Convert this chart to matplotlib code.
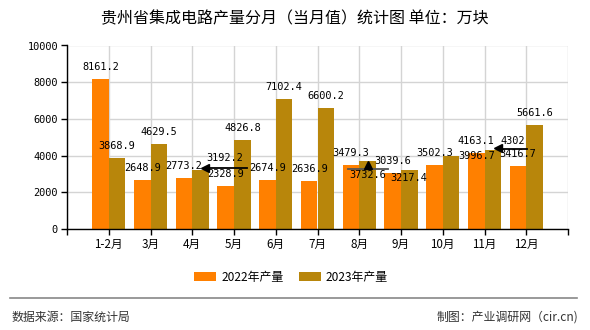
import matplotlib
matplotlib.use('Agg')
import matplotlib.pyplot as plt
from matplotlib.lines import Line2D
from matplotlib.patches import Patch
from matplotlib.transforms import IdentityTransform
import numpy as np

plt.rcParams['font.family'] = ['Noto Sans CJK SC', 'DejaVu Sans']

title = '贵州省集成电路产量分月（当月值）统计图 单位：万块'
categories = ['1-2月', '3月', '4月', '5月', '6月', '7月', '8月', '9月', '10月', '11月', '12月']
values_2022 = [8161.2, 2648.9, 2773.2, 2328.9, 2674.9, 2636.9, 3479.3, 3039.6, 3502.3, 4163.1, 3416.7]
values_2023 = [3868.9, 4629.5, 3192.2, 4826.8, 7102.4, 6600.2, 3732.6, 3217.4, 3996.7, 4302, 5661.6]
series_names = ['2022年产量', '2023年产量']
y_ticks = [0, 2000, 4000, 6000, 8000, 10000]
source_text = '数据来源：国家统计局'
credit_text = '制图：产业调研网（cir.cn)'

colors = ['#FF8000', '#B8860B']
W, H = 590, 330

fig = plt.figure(figsize=(W / 100, H / 100), dpi=100)
ax = fig.add_axes([67 / W, 101 / H, 501 / W, 183.5 / H])

x = np.arange(len(categories))
bw = 0.4
ax.bar(x - bw / 2, values_2022, bw, color=colors[0], zorder=2)
ax.bar(x + bw / 2, values_2023, bw, color=colors[1], zorder=2)

ax.set_xlim(-1, len(categories))
ax.set_ylim(y_ticks[0], y_ticks[-1])
ax.set_yticks(y_ticks)
ax.set_yticklabels([str(t) for t in y_ticks], family='DejaVu Sans Mono', fontsize=7.4)
ax.set_xticks(np.arange(-1, len(categories) + 1))
ax.set_xticklabels([''] + categories + [''], fontsize=8.4)
ax.tick_params(axis='both', length=4.5, width=1, color='black', pad=2)
ax.set_axisbelow(True)
ax.grid(True, color='#d4d4d4', lw=1)
for s in ['top', 'right']:
    ax.spines[s].set_visible(False)
for s in ['left', 'bottom']:
    ax.spines[s].set_color('black')
    ax.spines[s].set_linewidth(1)

# label offsets in pixels (dx, dy) for displaced labels
label_offsets = {
    (1, 2): (24, 12),
    (1, 6): (0, -14),
    (1, 7): (-1, -8),
    (1, 8): (26, 0),
    (1, 9): (20, 9),
}
lbl_kw = dict(textcoords='offset pixels', ha='center', va='center',
              family='DejaVu Sans Mono', fontsize=7.4, color='black', zorder=5)

for si, vals in enumerate([values_2022, values_2023]):
    off = -bw / 2 if si == 0 else bw / 2
    for i, v in enumerate(vals):
        dx, dy = label_offsets.get((si, i), (0, 12))
        txt = f'{v:g}' if float(v).is_integer() else f'{v:.1f}'
        ax.annotate(txt, xy=(i + off, v), xytext=(dx, dy), **lbl_kw)

# leader lines (computed from the bar tops in pixel space)
def leader(i, v, x0, x1, dy, marker, mdx, mdy, color='black'):
    px, py = ax.transData.transform((i + bw / 2, v))
    fig.add_artist(Line2D([px + x0, px + x1], [py + dy, py + dy], color=color, lw=1.3,
                          transform=IdentityTransform(), zorder=6))
    fig.add_artist(Line2D([px + mdx], [py + mdy], marker=marker, markersize=5.5, color='black',
                          lw=0, transform=IdentityTransform(), zorder=7))

leader(2, values_2023[2], 3, 46, 2, '<', 4, 2)
leader(9, values_2023[9], 4, 34, 1.5, '<', 5, 2)
leader(6, values_2023[6], -20, 20, -8, '^', 0, -4, color='#555555')

# title
fig.text(0.5, 1 - 19 / H, title, ha='center', va='center', fontsize=11.5, color='black')

# legend
handles = [Patch(facecolor=c, edgecolor='none') for c in colors]
fig.legend(handles, series_names, loc='center', bbox_to_anchor=(291 / W, 1 - 277 / H),
           ncol=2, frameon=False, fontsize=8.6, handlelength=1.85, handleheight=0.7,
           handletextpad=0.4, columnspacing=1.3)

# footer
fig.add_artist(Line2D([10 / W, 577 / W], [1 - 298 / H] * 2, color='#888888', lw=1.2))
fig.text(12 / W, 1 - 317 / H, source_text, ha='left', va='center', fontsize=8.6, color='#333333')
fig.text(578 / W, 1 - 317 / H, credit_text, ha='right', va='center', fontsize=8.6, color='#333333')

fig.savefig('out.png', dpi=100)
